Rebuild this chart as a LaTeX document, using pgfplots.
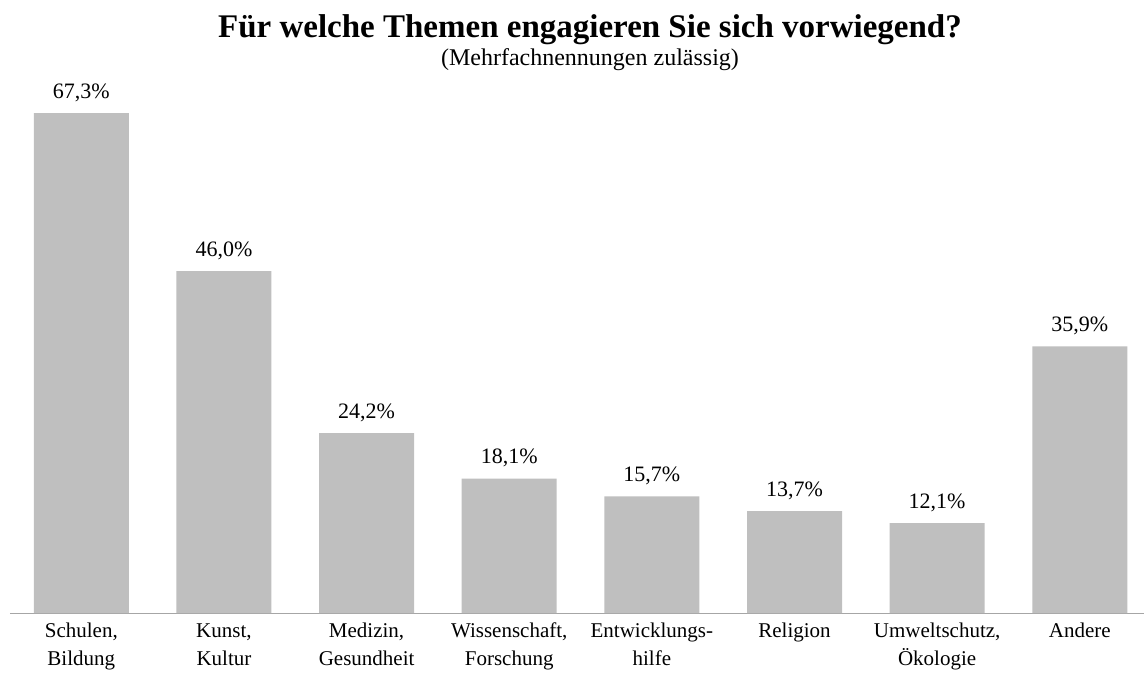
\documentclass[border=0pt]{standalone}
\usepackage{pgfplots}
\pgfplotsset{compat=1.18}
\usepackage{fontspec}
\setmainfont{Liberation Serif}
\definecolor{barg}{HTML}{BFBFBF}
\definecolor{axg}{HTML}{A6A6A6}
\begin{document}
\begin{tikzpicture}[x=1pt,y=1pt]
\begin{axis}[
  at={(0,0)}, anchor=south west,
  scale only axis, width=1134pt, height=500pt,
  xmin=-0.5, xmax=7.45, ymin=0, ymax=67.3,
  axis y line=none, axis x line*=bottom,
  x axis line style={draw=axg, line width=0.8pt, -},
  ybar, bar width=95pt,
  xtick=data, major tick length=0pt,
  xticklabels={{\strut Schulen,\\Bildung},{\strut Kunst,\\Kultur},{\strut Medizin,\\Gesundheit},{\strut Wissenschaft,\\Forschung},{\strut Entwicklungs-\\hilfe},{\strut Religion},{\strut Umweltschutz,\\Ökologie},{\strut Andere}},
  xticklabel style={align=center, font=\fontsize{21}{28}\selectfont, anchor=north, inner sep=0pt, yshift=-4.5pt},
  /pgf/number format/assume math mode=true,
  nodes near coords={\pgfmathprintnumber[use comma,fixed,fixed zerofill,precision=1]{\pgfplotspointmeta}\%},
  nodes near coords style={font=\fontsize{22}{24}\selectfont, anchor=base, inner sep=0pt, yshift=15pt},
  clip=false,
]
\addplot[fill=barg, draw=none] coordinates {(0,67.3) (1,46.0) (2,24.2) (3,18.1) (4,15.7) (5,13.7) (6,12.1) (7,35.9)};
\end{axis}
\node[font=\fontsize{33}{36}\selectfont\bfseries, anchor=base] at (580,575) {Für welche Themen engagieren Sie sich vorwiegend?};
\node[font=\fontsize{24}{26}\selectfont, anchor=base] at (580,547) {(Mehrfachnennungen zulässig)};
\pgfresetboundingbox
\path (-10,-60) rectangle (1134,613);
\end{tikzpicture}
\end{document}
